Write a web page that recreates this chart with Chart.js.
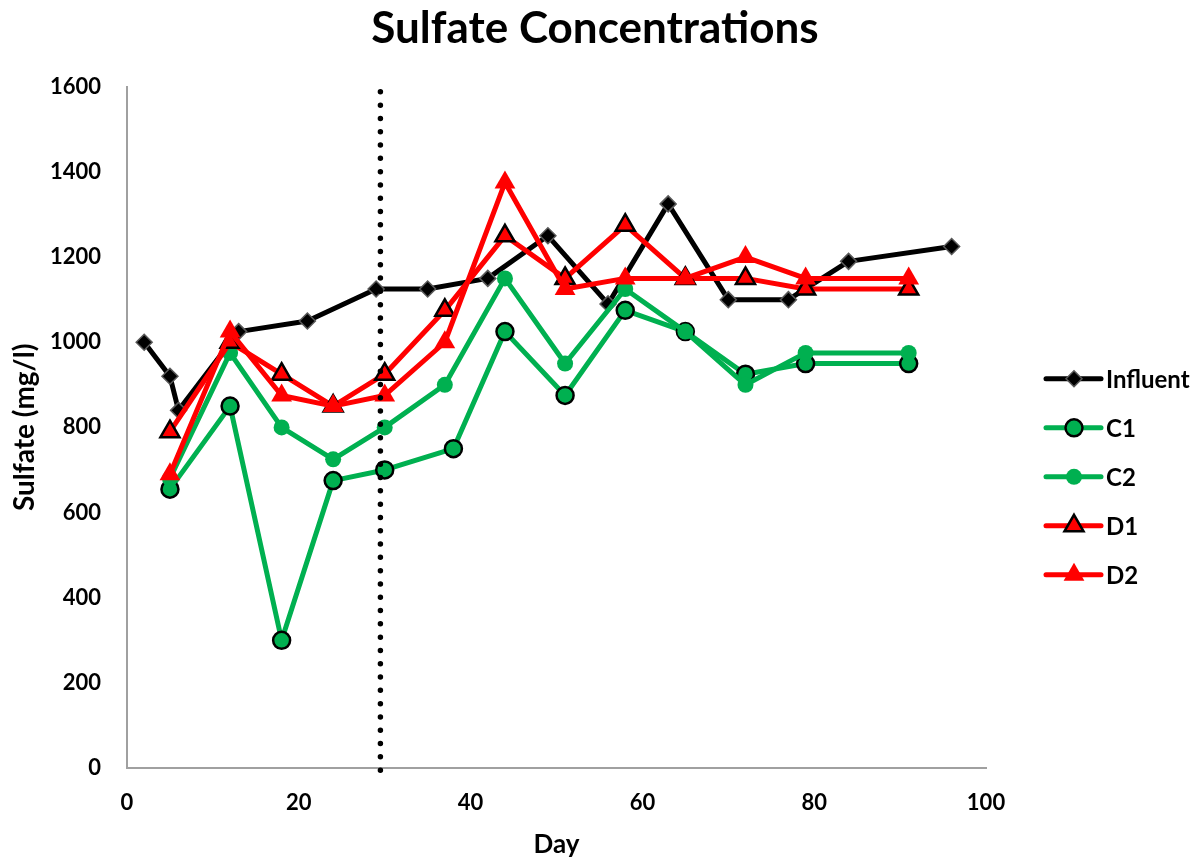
<!DOCTYPE html>
<html>
<head>
<meta charset="utf-8">
<title>Sulfate Concentrations</title>
<script src="https://cdn.jsdelivr.net/npm/chart.js@4/dist/chart.umd.min.js"></script>
<style>
  html, body { margin: 0; padding: 0; background: #fff; }
  #wrap { width: 1202px; height: 863px; }
</style>
</head>
<body>
<div id="wrap"><canvas id="sulfate-chart"></canvas></div>
<script>
// ---- data ----
const influentDays = [2, 5, 6, 13, 21, 29, 35, 42, 49, 56, 63, 70, 77, 84, 96];
const influentValues = [1000, 920, 840, 1025, 1050, 1125, 1125, 1150, 1250, 1090, 1325, 1100, 1100, 1190, 1225];

const c1Days = [5, 12, 18, 24, 30, 38, 44, 51, 58, 65, 72, 79, 91];
const c1Values = [655, 850, 300, 675, 700, 750, 1025, 875, 1075, 1025, 925, 950, 950];

const c2Days = [5, 12, 18, 24, 30, 37, 44, 51, 58, 65, 72, 79, 91];
const c2Values = [680, 975, 800, 725, 800, 900, 1150, 950, 1125, 1025, 900, 975, 975];

const dDays = [5, 12, 18, 24, 30, 37, 44, 51, 58, 65, 72, 79, 91];
const d1Values = [790, 1000, 925, 850, 925, 1075, 1250, 1150, 1275, 1150, 1150, 1125, 1125];
const d2Values = [690, 1025, 875, 850, 875, 1000, 1375, 1125, 1150, 1150, 1200, 1150, 1150];

// day the feed was switched (dotted divider)
const switchDay = 29.5;
const switchRange = [-5, 1590];

const xTicks = [0, 20, 40, 60, 80, 100];
const yTicks = [0, 200, 400, 600, 800, 1000, 1200, 1400, 1600];

// ---- styles ----
const GREEN = '#00b050';
const RED = '#ff0000';
const FONT = 'Lato, "Open Sans", sans-serif';

function toPoints(days, values) {
  return days.map((d, i) => ({ x: d, y: values[i] }));
}

function series(label, days, values, color, extra) {
  return Object.assign({
    label: label,
    data: toPoints(days, values),
    yAxisID: 'y',
    borderColor: color,
    backgroundColor: color,
    borderWidth: 5,
    borderJoinStyle: 'round',
    borderCapStyle: 'round',
    pointBorderColor: '#000',
    pointHoverRadius: 0,
    tension: 0
  }, extra);
}

const datasets = [
  series('Influent', influentDays, influentValues, '#000', {
    pointStyle: 'rectRot', pointRadius: 8, pointBackgroundColor: '#000',
    pointBorderColor: '#595959', pointBorderWidth: 1.5, order: 5
  }),
  series('C1', c1Days, c1Values, GREEN, {
    pointStyle: 'circle', pointRadius: 8.5, pointBackgroundColor: GREEN,
    pointBorderWidth: 2.5, order: 4
  }),
  series('C2', c2Days, c2Values, GREEN, {
    pointStyle: 'circle', pointRadius: 8, pointBackgroundColor: GREEN,
    pointBorderColor: GREEN, pointBorderWidth: 0, order: 3
  }),
  series('D1', dDays, d1Values, RED, {
    pointStyle: 'triangle', pointRadius: 11, pointBackgroundColor: RED,
    pointBorderWidth: 2.5, order: 2
  }),
  series('D2', dDays, d2Values, RED, {
    pointStyle: 'triangle', pointRadius: 12, pointBackgroundColor: RED,
    pointBorderColor: RED, pointBorderWidth: 0, order: 1
  }),
  {
    label: 'divider',
    data: switchRange.map(v => ({ x: switchDay, y: v })),
    yAxisID: 'y',
    borderColor: '#000',
    borderWidth: 5.5,
    borderDash: [0, 13.3],
    borderCapStyle: 'round',
    pointRadius: 0,
    pointHoverRadius: 0,
    clip: false,
    order: 0,
    isDivider: true
  }
];

// legend drawn beside the plot: line + marker + label
const sideLegend = {
  id: 'sideLegend',
  afterDraw(chart) {
    const { ctx, chartArea } = chart;
    const x0 = chartArea.right + 60;
    let y = chartArea.top + 292;
    ctx.save();
    chart.data.datasets.forEach((ds) => {
      if (ds.isDivider) return;
      ctx.strokeStyle = ds.borderColor;
      ctx.lineWidth = ds.borderWidth;
      ctx.lineCap = 'round';
      ctx.beginPath();
      ctx.moveTo(x0, y);
      ctx.lineTo(x0 + 55, y);
      ctx.stroke();

      ctx.fillStyle = ds.pointBackgroundColor;
      ctx.strokeStyle = ds.pointBorderColor;
      ctx.lineWidth = ds.pointBorderWidth;
      Chart.helpers.drawPoint(ctx, {
        pointStyle: ds.pointStyle,
        radius: ds.pointRadius,
        borderWidth: ds.pointBorderWidth,
        rotation: 0
      }, x0 + 28, y);

      ctx.fillStyle = '#000';
      ctx.font = 'bold 24px ' + FONT;
      ctx.textAlign = 'left';
      ctx.textBaseline = 'middle';
      ctx.fillText(ds.label, x0 + 60, y + 1);
      y += 49;
    });
    ctx.restore();
  }
};

new Chart(document.getElementById('sulfate-chart'), {
  type: 'line',
  data: { datasets: datasets },
  options: {
    responsive: true,
    maintainAspectRatio: false,
    animation: false,
    events: [],
    layout: { padding: { left: 0, right: 12, top: 0, bottom: 0 } },
    plugins: {
      legend: { display: false },
      tooltip: { enabled: false },
      title: {
        display: true,
        text: 'Sulfate Concentrations',
        color: '#000',
        font: { family: FONT, size: 44, weight: 'bold' },
        padding: { top: 2, bottom: 32 }
      }
    },
    scales: {
      x: {
        type: 'linear',
        min: 0,
        max: 100,
        afterBuildTicks: (scale) => { scale.ticks = xTicks.map(v => ({ value: v })); },
        afterFit: (scale) => { scale.height = 95; },
        grid: { display: false, drawTicks: false },
        border: { display: true, color: '#a0a0a0', width: 2 },
        ticks: {
          color: '#000',
          padding: 22,
          callback: (v) => String(v),
          font: { family: FONT, size: 22, weight: 'bold' }
        },
        title: {
          display: true,
          text: 'Day',
          color: '#000',
          font: { family: FONT, size: 26, weight: 'bold' },
          padding: { top: 0, bottom: 3 }
        }
      },
      y: {
        type: 'linear',
        position: 'left',
        min: 0,
        max: 1600,
        afterBuildTicks: (scale) => { scale.ticks = yTicks.map(v => ({ value: v })); },
        afterFit: (scale) => { scale.width = 127; },
        grid: { display: false, drawTicks: false },
        border: { display: true, color: '#a0a0a0', width: 2 },
        ticks: {
          color: '#000',
          padding: 26,
          callback: (v) => String(v),
          font: { family: FONT, size: 22, weight: 'bold' }
        },
        title: {
          display: true,
          text: 'Sulfate (mg/l)',
          color: '#000',
          font: { family: FONT, size: 28, weight: 'bold' },
          padding: { top: 8, bottom: 0 }
        }
      },
      // blank strip on the right that holds the legend
      legendSpace: {
        type: 'linear',
        axis: 'y',
        position: 'right',
        min: 0,
        max: 1600,
        afterFit: (scale) => { scale.width = 204; },
        grid: { display: false, drawTicks: false },
        border: { display: false },
        ticks: { display: false }
      }
    }
  },
  plugins: [sideLegend]
});
</script>
</body>
</html>
